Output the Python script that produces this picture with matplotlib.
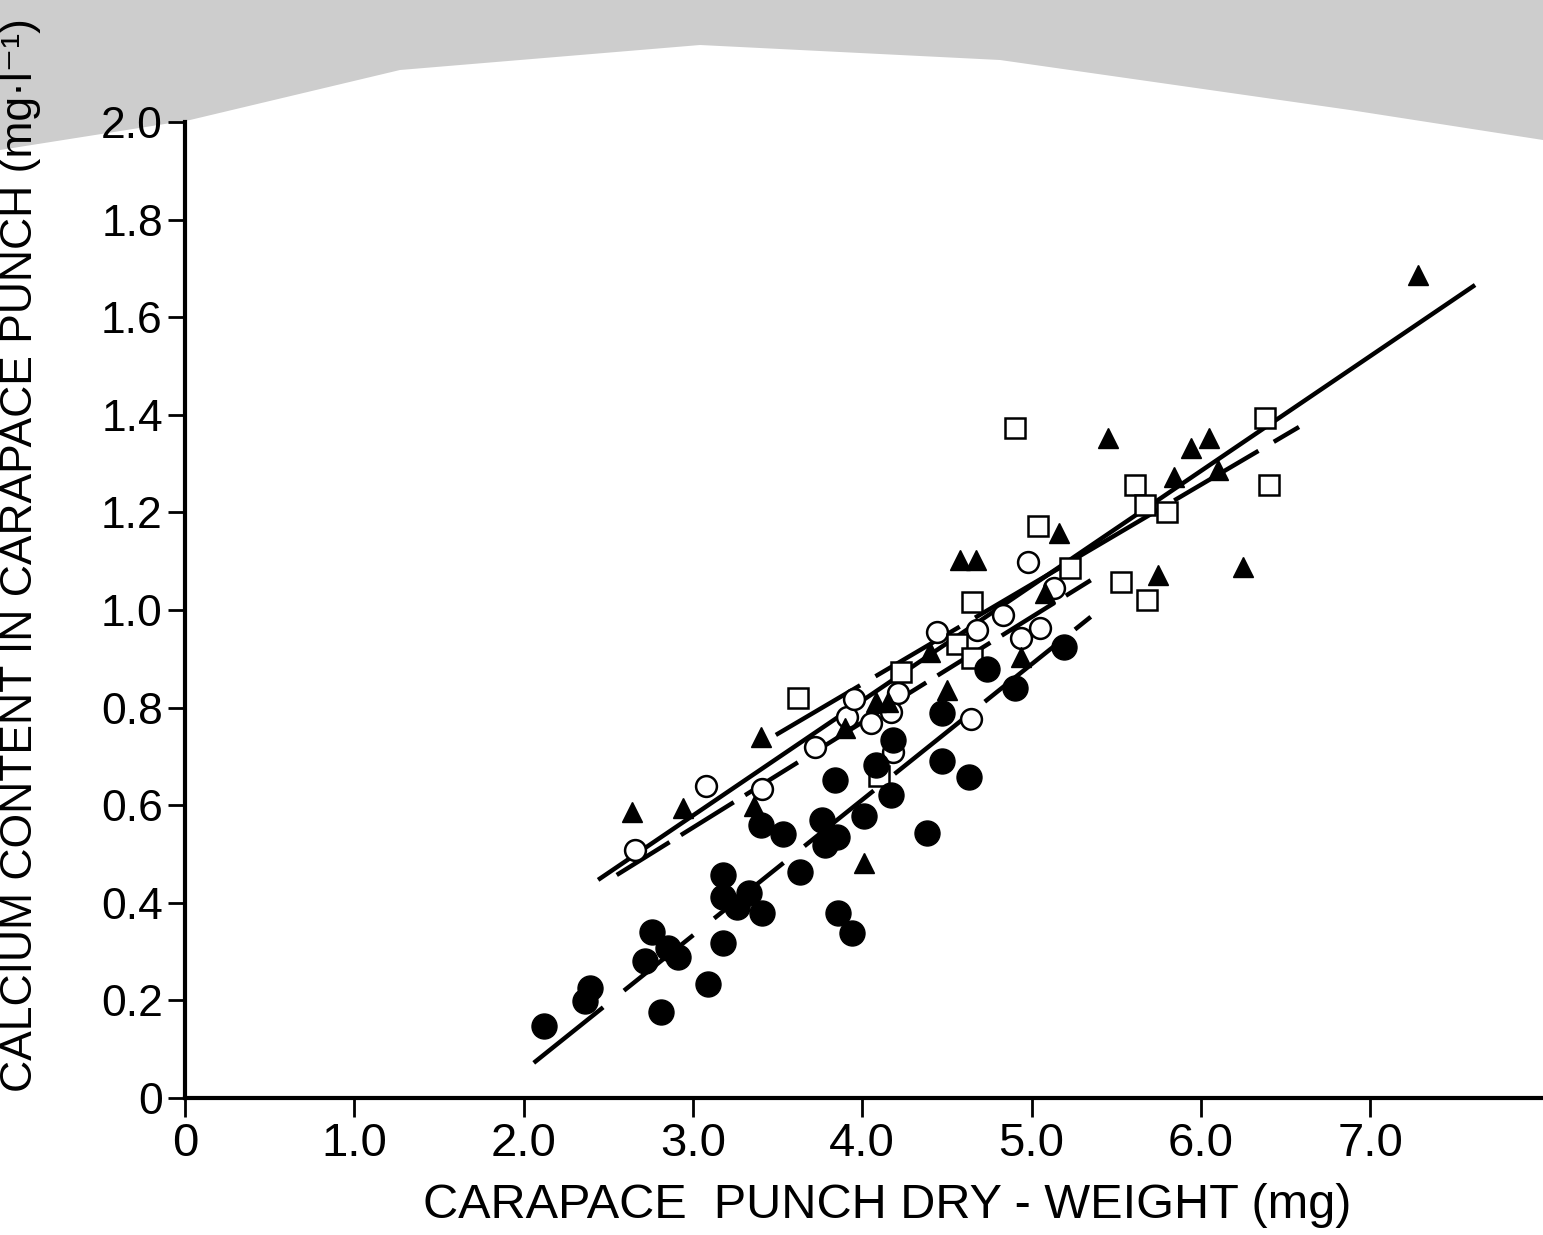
import matplotlib
matplotlib.use("Agg")
import matplotlib.pyplot as plt
from matplotlib.patches import Polygon
import numpy as np

# ---------------- data ----------------
filled_x = [2.12, 2.36, 2.39, 2.72, 2.76, 2.81, 2.85, 2.91, 3.09, 3.18, 3.18, 3.18,
            3.26, 3.33, 3.41, 3.40, 3.53, 3.63, 3.76, 3.78, 3.85, 3.84, 3.86, 3.94,
            4.01, 4.08, 4.17, 4.18, 4.38, 4.47, 4.47, 4.63, 4.74, 4.90, 5.19]
filled_y = [0.148, 0.199, 0.225, 0.281, 0.340, 0.176, 0.307, 0.289, 0.234, 0.457, 0.412, 0.318,
            0.391, 0.420, 0.379, 0.559, 0.541, 0.463, 0.570, 0.518, 0.535, 0.652, 0.379, 0.338,
            0.578, 0.682, 0.621, 0.734, 0.543, 0.691, 0.789, 0.658, 0.879, 0.840, 0.924]

open_x = [2.66, 3.08, 3.41, 3.72, 3.91, 3.95, 4.05, 4.17, 4.21, 4.18, 4.44, 4.64,
          4.68, 4.83, 4.94, 5.05, 4.98, 5.13]
open_y = [0.508, 0.639, 0.633, 0.719, 0.781, 0.818, 0.768, 0.791, 0.830, 0.709, 0.955, 0.777,
          0.959, 0.990, 0.943, 0.963, 1.098, 1.045]

square_x = [3.62, 4.10, 4.23, 4.56, 4.65, 4.65, 4.90, 5.04, 5.23, 5.53, 5.68, 5.61,
            5.67, 5.80, 6.38, 6.40]
square_y = [0.820, 0.660, 0.873, 0.930, 0.902, 1.016, 1.373, 1.172, 1.086, 1.057, 1.020, 1.256,
            1.215, 1.201, 1.393, 1.256]

tri_x = [2.64, 2.94, 3.40, 3.36, 3.90, 4.01, 4.08, 4.15, 4.40, 4.50, 4.58, 4.67,
         4.94, 5.08, 5.16, 5.45, 5.75, 5.84, 5.94, 6.05, 6.10, 6.25, 7.28]
tri_y = [0.586, 0.594, 0.740, 0.598, 0.758, 0.482, 0.811, 0.811, 0.914, 0.836, 1.102, 1.102,
         0.904, 1.035, 1.158, 1.352, 1.072, 1.273, 1.332, 1.352, 1.287, 1.088, 1.686]

# regression lines (end points)
tri_line_x = [2.44, 7.62]
tri_line_y = [0.447, 1.666]
square_line_x = [3.49, 6.58]
square_line_y = [0.744, 1.375]
open_line_x = [2.55, 5.35]
open_line_y = [0.457, 1.061]
filled_line_x = [2.06, 5.35]
filled_line_y = [0.072, 0.986]

xtick_vals = [0, 1, 2, 3, 4, 5, 6, 7]
xtick_labels = ["0", "1.0", "2.0", "3.0", "4.0", "5.0", "6.0", "7.0"]
ytick_vals = [0, 0.2, 0.4, 0.6, 0.8, 1.0, 1.2, 1.4, 1.6, 1.8, 2.0]
ytick_labels = ["0", "0.2", "0.4", "0.6", "0.8", "1.0", "1.2", "1.4", "1.6", "1.8", "2.0"]

xlabel = "CARAPACE  PUNCH DRY - WEIGHT (mg)"
ylabel = "CALCIUM CONTENT IN CARAPACE PUNCH (mg\u00b7l\u207b\u00b9)"

# ---------------- figure ----------------
W, H = 1543, 1235
fig = plt.figure(figsize=(W / 100, H / 100), dpi=100)
fig.patch.set_facecolor("white")

# scanner shading at the top
band = Polygon([(0, 1), (1, 1), (1, 1 - 140 / H), (1350 / W, 1 - 110 / H),
                (1000 / W, 1 - 60 / H), (700 / W, 1 - 45 / H), (400 / W, 1 - 70 / H),
                (190 / W, 1 - 120 / H), (0, 1 - 150 / H)],
               closed=True, transform=fig.transFigure, facecolor="#cdcdcd",
               edgecolor="none", zorder=0)
fig.add_artist(band)

ax = fig.add_axes([185 / W, 137 / H, (W - 185) / W, 976 / H])
ax.set_facecolor("none")
ax.set_xlim(0, (W - 185) / 169.3)
ax.set_ylim(0, 2.0)

for s in ["top", "right"]:
    ax.spines[s].set_visible(False)
for s in ["left", "bottom"]:
    ax.spines[s].set_linewidth(3)
    ax.spines[s].set_color("black")

fam = ["Liberation Sans", "DejaVu Sans"]

ax.set_xticks(xtick_vals)
ax.set_xticklabels(xtick_labels, family=fam, fontsize=34)
ax.set_yticks(ytick_vals)
ax.set_yticklabels(ytick_labels, family=fam, fontsize=32)
ax.tick_params(axis="x", direction="out", length=14, width=2, pad=3)
ax.tick_params(axis="y", direction="out", length=12, width=2, pad=4)

ax.set_xlabel(xlabel, family=fam, fontsize=35)
ax.xaxis.set_label_coords(0.517, -0.087)
ax.set_ylabel(ylabel, family=fam, fontsize=32)
ax.yaxis.set_label_coords(-0.106, 0.556)

# regression lines
ax.plot(tri_line_x, tri_line_y, color="black", lw=3.2, solid_capstyle="butt", zorder=2)
ax.plot(square_line_x, square_line_y, color="black", lw=3.2, dashes=(22, 4), zorder=2)
ax.plot(open_line_x, open_line_y, color="black", lw=3.2, dashes=(14, 3), zorder=2)
ax.plot(filled_line_x, filled_line_y, color="black", lw=3.2, dashes=(20, 6), zorder=2)

# markers
ax.plot(filled_x, filled_y, "o", ms=18, color="black", mec="black", ls="none", zorder=4)
ax.plot(open_x, open_y, "o", ms=15, mfc="white", mec="black", mew=1.8, ls="none", zorder=3)
ax.plot(square_x, square_y, "s", ms=15, mfc="white", mec="black", mew=1.8, ls="none", zorder=3)
ax.plot(tri_x, tri_y, "^", ms=15, color="black", ls="none", zorder=4)

fig.savefig("out.png", dpi=100, facecolor="white")
